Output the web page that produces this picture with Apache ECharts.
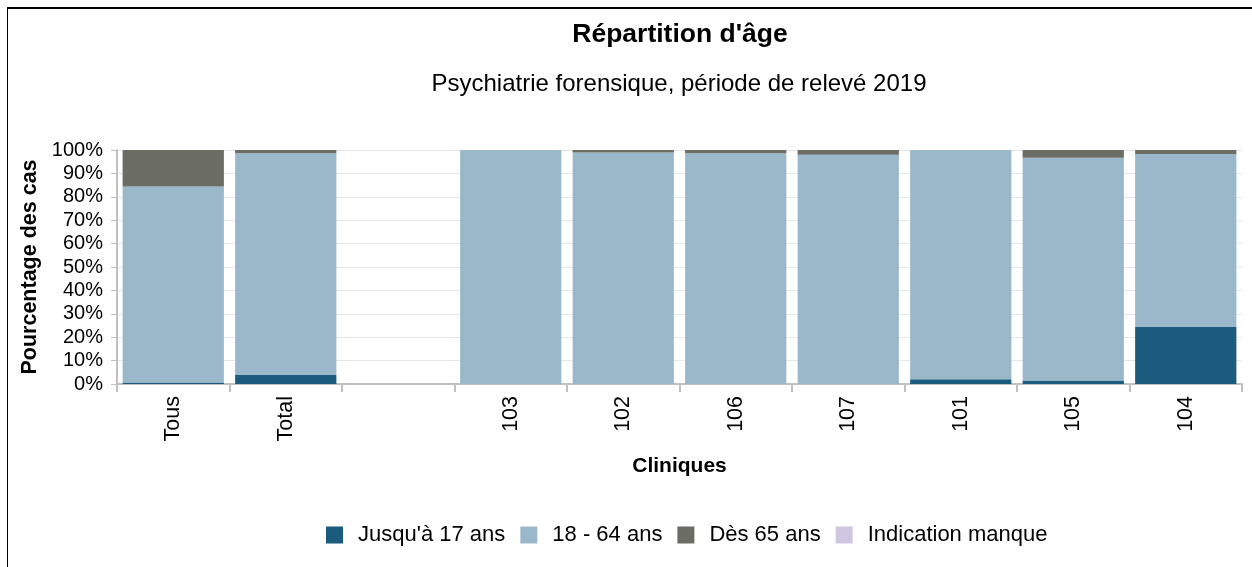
<!DOCTYPE html>
<html><head><meta charset="utf-8">
<script src="https://cdn.jsdelivr.net/npm/echarts@6/dist/echarts.min.js"></script>
<style>
html,body{margin:0;padding:0;background:#fff;}
#frame{position:absolute;left:7px;top:7px;width:1245px;height:560px;border-top:2px solid #000;border-left:1px solid #000;box-sizing:border-box;}
#chart{position:absolute;left:0;top:0;width:1252px;height:567px;}
</style></head>
<body>
<div id="frame"></div>
<div id="chart"></div>
<script>
const categories = ['Tous', 'Total', '', '103', '102', '106', '107', '101', '105', '104'];
const jusqua17 = [0.6, 3.8, null, 0, 0, 0, 0, 2.0, 1.5, 24.4];
const age18a64 = [83.8, 94.8, null, 100, 98.9, 98.6, 98.0, 98.0, 95.2, 73.9];
const des65 = [15.6, 1.4, null, 0, 1.1, 1.4, 2.0, 0, 3.3, 1.7];
const manque = [0, 0, null, 0, 0, 0, 0, 0, 0, 0];
const seriesNames = ["Jusqu'à 17 ans", '18 - 64 ans', 'Dès 65 ans', 'Indication manque'];
const colors = ['#1b5b7e', '#9bb8ca', '#6b6c64', '#d0c6e2'];
const yTicks = [0, 10, 20, 30, 40, 50, 60, 70, 80, 90, 100];

const font = 'Liberation Sans, Arial, sans-serif';
const chart = echarts.init(document.getElementById('chart'), null, {renderer: 'canvas'});
const data = [jusqua17, age18a64, des65, manque];
chart.setOption({
  animation: false,
  color: colors,
  textStyle: {fontFamily: font},
  title: [
    {text: "Répartition d'âge", left: 675, top: 16, textAlign: 'center',
     textStyle: {fontSize: 26.5, fontWeight: 'bold', color: '#000', fontFamily: font}},
    {text: 'Psychiatrie forensique, période de relevé 2019', left: 674, top: 67, textAlign: 'center',
     textStyle: {fontSize: 24, fontWeight: 'normal', color: '#000', fontFamily: font}}
  ],
  legend: {
    data: seriesNames, left: 326, top: 524, itemWidth: 17, itemHeight: 17, itemGap: 15,
    icon: 'rect', textStyle: {fontSize: 22, color: '#000', fontFamily: font, padding: [0, 0, 0, 10]},
    padding: 0
  },
  grid: {left: 117, right: 10, top: 150, bottom: 183, containLabel: false},
  xAxis: {
    type: 'category', data: categories,
    name: 'Cliniques', nameLocation: 'middle', nameGap: 72,
    nameTextStyle: {fontSize: 21, fontWeight: 'bold', color: '#000', fontFamily: font},
    axisLine: {lineStyle: {color: '#c0c0c0', width: 2}},
    axisTick: {show: true, alignWithLabel: false, length: 8, lineStyle: {color: '#c0c0c0', width: 2}},
    axisLabel: {rotate: 90, fontSize: 21.5, color: '#000', margin: 12, fontFamily: font, interval: 0}
  },
  yAxis: {
    type: 'value', min: 0, max: 100, interval: 10,
    name: 'Pourcentage des cas', nameLocation: 'middle', nameGap: 72, nameRotate: 90,
    nameTextStyle: {fontSize: 21.5, fontWeight: 'bold', color: '#000', fontFamily: font},
    axisLine: {show: true, lineStyle: {color: '#c0c0c0', width: 2}},
    axisTick: {show: true, length: 6, lineStyle: {color: '#c0c0c0', width: 1}},
    axisLabel: {fontSize: 20, color: '#000', margin: 14, fontFamily: font,
      formatter: v => yTicks.includes(v) ? v + '%' : ''},
    splitLine: {lineStyle: {color: '#e6e6e6', width: 1}}
  },
  series: seriesNames.map((n, i) => ({
    name: n, type: 'bar', stack: 'total', data: data[i], barCategoryGap: '10%',
    itemStyle: {color: colors[i]}
  }))
});
</script>
</body></html>
